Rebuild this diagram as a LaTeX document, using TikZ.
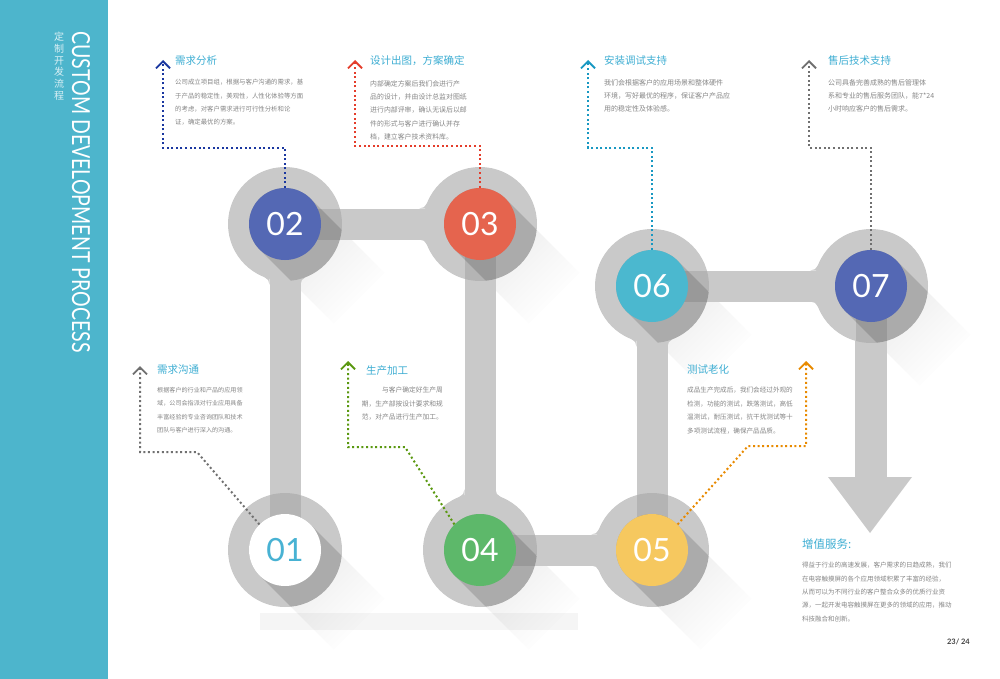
\documentclass[tikz,border=0pt]{standalone}
\usepackage{graphicx}
\usepackage{fontspec}
\setmainfont{Noto Sans CJK SC}
\newfontfamily\numfont{Lato}
\usetikzlibrary{arrows.meta,fadings}

\definecolor{sidebar}{HTML}{4DB5CC}
\definecolor{track}{HTML}{C9C9C9}
\definecolor{headc}{HTML}{3DADD2}
\definecolor{bodyc}{HTML}{858585}
\definecolor{col01}{HTML}{48B2D3}
\definecolor{col02}{HTML}{5468B4}
\definecolor{col03}{HTML}{E5644E}
\definecolor{col04}{HTML}{5DB86A}
\definecolor{col05}{HTML}{F6C85F}
\definecolor{col06}{HTML}{4BB8CF}
\definecolor{ld01}{HTML}{707070}
\definecolor{ld02}{HTML}{1A37A0}
\definecolor{ld03}{HTML}{E43D2B}
\definecolor{ld04}{HTML}{5A9810}
\definecolor{ld05}{HTML}{E88A00}
\definecolor{ld06}{HTML}{1898C2}

\tikzset{
  numc/.style={circle, minimum size=72pt, inner sep=0pt, text=white,
    font=\numfont\fontsize{32}{32}\selectfont},
  head/.style={anchor=west, inner sep=0pt, text=headc, font=\fontsize{10.5}{12}\selectfont},
  para/.style={anchor=north west, inner sep=0pt, align=left, text=bodyc,
    font=\fontsize{#1}{13.4}\selectfont},
  para/.default=6.5,
  lead/.style={line width=2pt, dash pattern=on 2pt off 2.6pt,
    -{Straight Barb[length=7pt,width=14pt,line width=1.8pt]}},
}

\begin{document}
\begin{tikzpicture}[x=1pt,y=-1pt]
  \useasboundingbox (0,0) rectangle (1000,679);

  % sidebar
  \fill[sidebar] (0,0) rectangle (108,679);
  \node[rotate=-90, text=white, inner sep=0pt] (ttl) at (81,192)
    {\resizebox{321pt}{18pt}{\numfont CUSTOM DEVELOPMENT PROCESS}};
  \node[anchor=north, align=center, inner sep=0pt, text=white!80!sidebar,
    font=\fontsize{10}{11.7}\selectfont] (sub) at (59,32) {定\\制\\开\\发\\流\\程};

  % faint bar at the bottom
  \fill[black!4] (260,613) rectangle (578,630);

  % long shadows on the paper
  \foreach \x/\y in {285/550, 285/224, 480/224, 480/550, 652/550, 652/286, 871/286}
    \fill[black, opacity=.11, path fading=east, fading angle=-45]
      (\x,\y) ++(-45:36) -- ++(45:105) -- ++(135:72) -- ++(225:105)
      arc[start angle=135, end angle=315, radius=36] -- cycle;

  % track
  \begin{scope}[fill=track]
    \foreach \x/\y in {285/550, 285/224, 480/224, 480/550, 652/550, 652/286, 871/286}
      \fill (\x,\y) circle (57);
    \fill (269.5,224) rectangle (300.5,550);
    \fill (285,208.5) rectangle (480,239.5);
    \fill (464.5,224) rectangle (495.5,550);
    \fill (480,534.5) rectangle (652,565.5);
    \fill (636.5,286) rectangle (667.5,550);
    \fill (652,270.5) rectangle (871,301.5);
    \fill (855,286) rectangle (887,478);
    \fill (828,477) -- (912,477) -- (870,533) -- cycle;
    % fillets where a band meets the next ring
    \foreach \x/\y/\a in {285/224/-90, 480/224/180, 480/550/90, 652/550/180, 652/286/-90, 871/286/180}
      \foreach \s in {1,-1}
        \fill[shift={(\x,\y)}, rotate=\a] (50,\s*15.5) -- (53.1,\s*20.6)
          arc[start angle=\s*201, end angle=\s*270, radius=8] -- cycle;
  \end{scope}

  % darker parts inside the rings
  \foreach \x/\y/\a in {285/550/-90, 285/224/0, 480/224/90, 480/550/0, 652/550/-90, 652/286/0, 871/286/90}{
    \begin{scope}
      \clip (\x,\y) circle (57);
      \fill[black, opacity=.1] (\x,\y) ++(\a-90:15.5) -- ++(\a:60) -- ++(\a+90:31)
        -- ++(\a+180:60) -- cycle;
      \fill[black, opacity=.15] (\x,\y) ++(-45:36) -- ++(45:140) -- ++(135:72)
        -- ++(225:140) arc[start angle=135, end angle=315, radius=36] -- cycle;
    \end{scope}}

  % numbered discs
  \node[numc, fill=white, text=col01] (c01) at (285,550) {01};
  \node[numc, fill=col02] (c02) at (285,224) {02};
  \node[numc, fill=col03] (c03) at (480,224) {03};
  \node[numc, fill=col04] (c04) at (480,550) {04};
  \node[numc, fill=col05] (c05) at (652,550) {05};
  \node[numc, fill=col06] (c06) at (652,286) {06};
  \node[numc, fill=col02] (c07) at (871,286) {07};

  % leader ends
  \coordinate (t01) at (140,366);
  \coordinate (t02) at (163,60);
  \coordinate (t03) at (355,60);
  \coordinate (t04) at (348,361);
  \coordinate (t05) at (806,361);
  \coordinate (t06) at (588,60);
  \coordinate (t07) at (809,60);

  \draw[lead, draw=ld01] (c01.north west) -- (197,452) -| (t01);
  \draw[lead, draw=ld02] (c02.north) -- ++(0,-40) -| (t02);
  \draw[lead, draw=ld03] (c03.north) -- ++(0,-42) -| (t03);
  \draw[lead, draw=ld04] (c04.north west) -- (405,447) -| (t04);
  \draw[lead, draw=ld05] (c05.north east) -- (748,446) -| (t05);
  \draw[lead, draw=ld06] (c06.north) -- ++(0,-102) -| (t06);
  \draw[lead, draw=ld01] (c07.north) -- ++(0,-102) -| (t07);

  % texts
  \node[head] (h01) at (157,370) {需求沟通};
  \node[para=6.1] (p01) at (157,387) {根据客户的行业和产品的应用领\\域，公司会指派对行业应用具备\\丰富经验的专业咨询团队和技术\\团队与客户进行深入的沟通。};

  \node[head] (h02) at (175,61) {需求分析};
  \node[para=6.4] (p02) at (175,79) {公司成立项目组，根据与客户沟通的需求，基\\于产品的稳定性，美观性，人性化体验等方面\\的考虑，对客户需求进行可行性分析和论\\证，确定最优的方案。};

  \node[head] (h03) at (370,61) {设计出图，方案确定};
  \node[para=6.9] (p03) at (370,80) {内部确定方案后我们会进行产\\品的设计，并由设计总监对图纸\\进行内部评审，确认无误后以邮\\件的形式与客户进行确认并存\\档，建立客户技术资料库。};

  \node[head] (h04) at (366,371) {生产加工};
  \node[para=6.75, anchor=north east, align=right] (p04) at (443,387) {与客户确定好生产周\\期，生产部按设计要求和规\\范，对产品进行生产加工。};

  \node[head] (h05) at (687,370) {测试老化};
  \node[para=6.6] (p05) at (687,387) {成品生产完成后，我们会经过外观的\\检测，功能的测试，跌落测试，高低\\温测试，耐压测试，抗干扰测试等十\\多项测试流程，确保产品品质。};

  \node[head] (h06) at (604,61) {安装调试支持};
  \node[para=7] (p06) at (604,79) {我们会根据客户的应用场景和整体硬件\\环境，写好最优的程序，保证客户产品应\\用的稳定性及体验感。};

  \node[head] (h07) at (828,61) {售后技术支持};
  \node[para=7] (p07) at (828,79) {公司具备完善成熟的售后管理体\\系和专业的售后服务团队，能7*24\\小时响应客户的售后需求。};

  \node[head, font=\fontsize{11.5}{13}\selectfont] (h08) at (802,544) {增值服务:};
  \node[para] (p08) at (802,562) {得益于行业的高速发展，客户需求的日趋成熟，我们\\在电容触摸屏的各个应用领域积累了丰富的经验，\\从而可以为不同行业的客户整合众多的优质行业资\\源，一起开发电容触摸屏在更多的领域的应用，推动\\科技融合和创新。};

  \node[anchor=east, inner sep=0pt, text=black!75,
    font=\numfont\bfseries\fontsize{7.5}{9}\selectfont] (pg) at (970,642) {23/ 24};
\end{tikzpicture}
\end{document}
